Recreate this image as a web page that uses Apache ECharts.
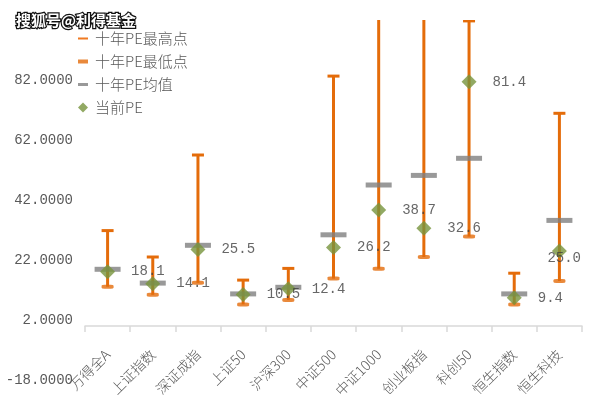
<!DOCTYPE html>
<html>
<head>
<meta charset="utf-8">
<script src="https://cdn.jsdelivr.net/npm/echarts@6/dist/echarts.min.js"></script>
<style>
html,body{margin:0;padding:0;background:#fff;}
#main{width:589px;height:412px;}
</style>
</head>
<body>
<div id="main"></div>
<script>
const categories = ['万得全A','上证指数','深证成指','上证50','沪深300','中证500','中证1000','创业板指','科创50','恒生指数','恒生科技'];
const highPE = [31.8, 23.0, 57.0, 15.3, 19.2, 83.3, 110, 110, 101.7, 17.6, 70.9];
const lowPE = [13.1, 10.4, 14.4, 7.2, 8.7, 15.8, 19.1, 23.0, 29.8, 7.2, 15.0];
const meanPE = [18.9, 14.3, 26.9, 10.7, 12.9, 30.4, 47.0, 50.2, 55.9, 10.7, 35.2];
const currentPE = [18.1, 14.1, 25.5, 10.5, 12.4, 26.2, 38.7, 32.6, 81.4, 9.4, 25.0];
const yTicks = {min: -18, max: 102, interval: 20};

const ORANGE = '#E46C0A';
const GRAY = '#7F7F7F';
const GREEN = '#77933C';
const TEXT = '#595959';
const MONO = '"Liberation Mono", "DejaVu Sans Mono", monospace';
const CJK = '"Noto Sans CJK SC", "Noto Sans", sans-serif';

const chart = echarts.init(document.getElementById('main'), null, {renderer: 'canvas'});

const rangeData = categories.map((c, i) => [i, highPE[i], lowPE[i]]);

function icon(y, h) {
  return 'path://M0 0h0.01v0.01H0z M0 ' + y + 'h10v' + h + 'H0z M9.99 9.99h0.01v0.01h-0.01z';
}

const option = {
  backgroundColor: '#fff',
  animation: false,
  title: {
    text: '搜狐号@利得基金',
    left: 11, top: 8,
    textStyle: {
      fontSize: 15, fontWeight: 'bold', fontFamily: CJK,
      color: '#fff', textBorderColor: '#111', textBorderWidth: 2.5
    }
  },
  legend: {
    orient: 'vertical',
    left: 78, top: 31, padding: 0,
    itemWidth: 10, itemHeight: 10, itemGap: 8,
    textStyle: {fontSize: 15, color: TEXT, fontFamily: CJK, fontWeight: 300, padding: [0,0,0,2]},
    data: [
      {name: '十年PE最高点', icon: icon(4, 2), itemStyle: {color: '#F07A22'}},
      {name: '十年PE最低点', icon: icon(3, 4), itemStyle: {color: ORANGE}},
      {name: '十年PE均值', icon: icon(3.5, 3), itemStyle: {color: GRAY}},
      {name: '当前PE', icon: 'diamond', itemStyle: {color: GREEN}}
    ]
  },
  grid: {left: 85, right: 7, top: 20, bottom: 32, containLabel: false, outerBoundsMode: 'none'},
  xAxis: {
    type: 'category',
    data: categories,
    boundaryGap: true,
    axisLine: {onZero: true, lineStyle: {color: '#D9D9D9', width: 1.5}},
    axisTick: {show: true, length: 6, alignWithLabel: false, lineStyle: {color: '#D9D9D9', width: 1.5}},
    axisLabel: {
      interval: 0, rotate: 45, margin: -28,
      fontSize: 14, color: TEXT, fontFamily: CJK, fontWeight: 300
    },
    splitLine: {show: false}
  },
  yAxis: {
    type: 'value',
    min: yTicks.min, max: yTicks.max, interval: yTicks.interval,
    axisLine: {show: false},
    axisTick: {show: false},
    splitLine: {show: false},
    axisLabel: {
      margin: 12, fontSize: 14, color: TEXT, fontFamily: MONO,
      showMaxLabel: false,
      formatter: v => v.toFixed(4)
    }
  },
  series: [
    {
      name: '十年PE最高点',
      type: 'custom',
      clip: true,
      itemStyle: {color: ORANGE},
      encode: {x: 0, y: [1, 2]},
      data: rangeData,
      renderItem: function (params, api) {
        const x = api.value(0);
        const pHi = api.coord([x, api.value(1)]);
        const pLo = api.coord([x, api.value(2)]);
        return {
          type: 'group',
          children: [
            {type: 'line', shape: {x1: pHi[0], y1: pHi[1], x2: pLo[0], y2: pLo[1]}, style: {stroke: ORANGE, lineWidth: 3}},
            {type: 'rect', shape: {x: pHi[0] - 6, y: pHi[1] - 1.5, width: 12, height: 3}, style: {fill: ORANGE}}
          ]
        };
      }
    },
    {
      name: '十年PE最低点',
      type: 'scatter',
      symbol: 'roundRect',
      symbolSize: [12, 4],
      itemStyle: {color: ORANGE},
      data: lowPE,
      z: 3
    },
    {
      name: '十年PE均值',
      type: 'scatter',
      symbol: 'rect',
      symbolSize: [26, 5],
      itemStyle: {color: GRAY},
      data: meanPE,
      z: 4
    },
    {
      name: '当前PE',
      type: 'scatter',
      symbol: 'diamond',
      symbolSize: 15,
      itemStyle: {color: GREEN},
      data: currentPE,
      z: 5,
      label: {
        show: true, position: 'right', distance: 16,
        fontSize: 14, color: '#404040', fontFamily: MONO,
        formatter: p => p.value.toFixed(1)
      },
      labelLayout: function (p) {
        const limit = 581;
        if (p.labelRect.x + p.labelRect.width > limit) {
          return {x: limit - p.labelRect.width};
        }
        return {};
      }
    }
  ]
};
chart.setOption(option);
</script>
</body>
</html>
